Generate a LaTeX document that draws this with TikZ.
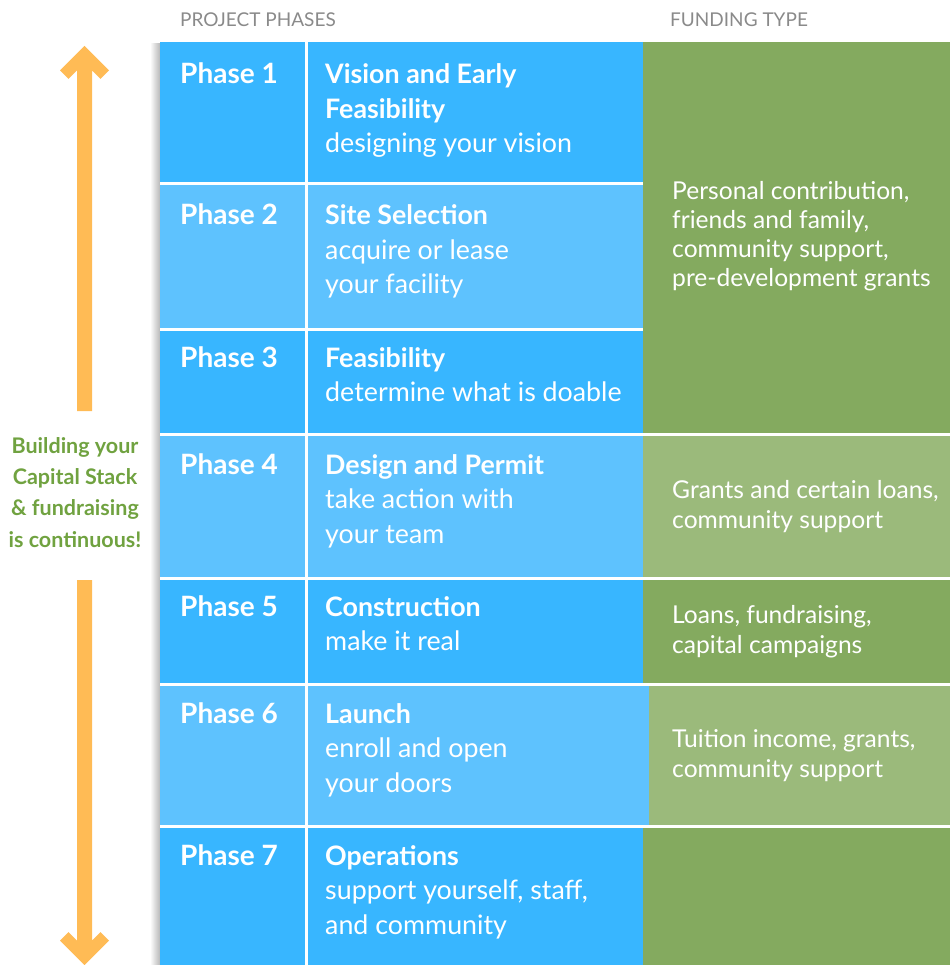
\documentclass[tikz,border=0pt]{standalone}
\usepackage{fontspec}
\setmainfont{Lato}
\definecolor{blueDark}{HTML}{38B6FF}
\definecolor{blueLight}{HTML}{5EC2FE}
\definecolor{greenDark}{HTML}{84AA5F}
\definecolor{greenLight}{HTML}{9BBA7B}
\definecolor{arrowOrange}{HTML}{FFBB55}
\definecolor{noteGreen}{HTML}{70A240}
\definecolor{headGray}{HTML}{8A8A8A}
\begin{document}
% multi-line nodes are placed by the baseline of their last line
\begin{tikzpicture}[x=1pt,y=-1pt,
  phaselbl/.style={anchor=base west,inner sep=0pt,text=white,font=\fontsize{28}{34.5}\selectfont\bfseries},
  phasetxt/.style={anchor=base west,inner sep=0pt,text=white,align=left,font=\fontsize{26.8}{34.5}\selectfont},
  fundtxt/.style={anchor=base west,inner sep=0pt,text=white,align=left,font=\fontsize{24.6}{29.3}\selectfont},
  headtxt/.style={anchor=base west,inner sep=0pt,text=headGray,font=\fontsize{19}{22}\selectfont},
  gridline/.style={white,line width=3pt},
  arrowbody/.style={fill=arrowOrange}]
\useasboundingbox (0,0) rectangle (950,965);

% soft shadow along the left edge of the table
\shade[left color=white,right color=black!28] (150,44) rectangle (160,965);

% phase column and description column
\fill[blueDark]  (160,42)  rectangle (643,184);
\fill[blueLight] (160,184) rectangle (643,329);
\fill[blueDark]  (160,329) rectangle (643,434);
\fill[blueLight] (160,434) rectangle (643,578);
\fill[blueDark]  (160,578) rectangle (643,684);
\fill[blueLight] (160,684) rectangle (649,826);
\fill[blueDark]  (160,826) rectangle (643,965);

% funding column
\fill[greenDark]  (643,42)  rectangle (950,434);
\fill[greenLight] (643,434) rectangle (950,578);
\fill[greenDark]  (643,578) rectangle (950,684);
\fill[greenLight] (649,684) rectangle (950,826);
\fill[greenDark]  (643,826) rectangle (950,965);

% white grid
\draw[gridline] (306.5,42) -- (306.5,965);
\draw[gridline] (160,184) -- (643,184);
\draw[gridline] (160,329) -- (643,329);
\foreach \yy in {434,578,684,826} \draw[gridline] (160,\yy) -- (950,\yy);

% headers
\node[headtxt] (hphases) at (180,27) {PROJECT PHASES};
\node[headtxt] (hfunding) at (670,27) {FUNDING TYPE};

% phase labels
\node[phaselbl] (p1) at (180,84)  {Phase 1};
\node[phaselbl] (p2) at (180,225) {Phase 2};
\node[phaselbl] (p3) at (180,367) {Phase 3};
\node[phaselbl] (p4) at (180,474) {Phase 4};
\node[phaselbl] (p5) at (180,616) {Phase 5};
\node[phaselbl] (p6) at (180,723) {Phase 6};
\node[phaselbl] (p7) at (180,865) {Phase 7};

% phase descriptions
\node[phasetxt] (d1) at (325,153)   {\textbf{Vision and Early}\\\textbf{Feasibility}\\designing your vision};
\node[phasetxt] (d2) at (325,294)   {\textbf{Site Selection}\\acquire or lease\\your facility};
\node[phasetxt] (d3) at (325,401.5) {\textbf{Feasibility}\\determine what is doable};
\node[phasetxt] (d4) at (325,543)   {\textbf{Design and Permit}\\take action with\\your team};
\node[phasetxt] (d5) at (325,650.5) {\textbf{Construction}\\make it real};
\node[phasetxt] (d6) at (325,792)   {\textbf{Launch}\\enroll and open\\your doors};
\node[phasetxt] (d7) at (325,934)   {\textbf{Operations}\\support yourself, staff,\\and community};

% funding types
\node[fundtxt] (f1) at (672,287) {Personal contribution,\\friends and family,\\community support,\\pre-development grants};
\node[fundtxt] (f4) at (672,528) {Grants and certain loans,\\community support};
\node[fundtxt] (f5) at (672,653) {Loans, fundraising,\\capital campaigns};
\node[fundtxt] (f6) at (672,777) {Tuition income, grants,\\community support};

% continuous fundraising arrows
\fill[arrowbody] (84.5,46) -- (109,70.5) -- (100.5,79) -- (92,70.5) -- (92,411)
  -- (77,411) -- (77,70.5) -- (68.5,79) -- (60,70.5) -- cycle;
\fill[arrowbody] (84.5,965) -- (109,940.5) -- (100.5,932) -- (92,940.5) -- (92,580)
  -- (77,580) -- (77,940.5) -- (68.5,932) -- (60,940.5) -- cycle;
\node[anchor=base,inner sep=0pt,text=noteGreen,align=center,
  font=\fontsize{21.5}{31.3}\selectfont\bfseries] (note) at (75,547)
  {Building your\\Capital Stack\\\& fundraising\\is continuous!};
\end{tikzpicture}
\end{document}
